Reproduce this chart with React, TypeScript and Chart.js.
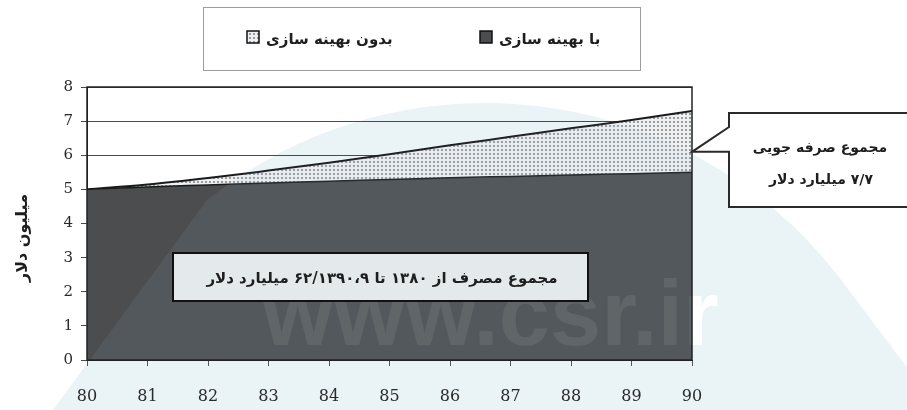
import React, { useEffect, useRef } from 'react';
import { Chart, registerables } from 'chart.js';

Chart.register(...registerables);

// Years (Solar Hijri, 13xx) on the category axis
const years = ['80', '81', '82', '83', '84', '85', '86', '87', '88', '89', '90'];

// Annual spending, million dollars
const withOptimization = [5.0, 5.07, 5.13, 5.19, 5.24, 5.29, 5.34, 5.38, 5.42, 5.46, 5.5];
const withoutOptimization = [5.0, 5.14, 5.33, 5.55, 5.78, 6.03, 6.29, 6.54, 6.79, 7.03, 7.3];

const yMin = 0;
const yMax = 8;
const yStep = 1;

const seriesLabels = ['با بهینه سازی', 'بدون بهینه سازی'];
const yTitle = 'میلیون دلار';
const savingsNote = ['مجموع صرفه جویی', '۷/۷ میلیارد دلار'];
const totalNote = 'مجموع مصرف از ۱۳۸۰ تا ۶۲/۱۳۹۰،۹ میلیارد دلار';
const watermarkText = 'www.csr.ir';

const FA_FONT = '"DejaVu Sans", sans-serif';
const NUM_FONT = '"DejaVu Serif", serif';
const DARK_FILL = '#4b4d4f';
const LINE_COLOR = '#1b1b1b';
const WM_BLUE = '#eaf3f6';

// Watermark dome: arc on top, straight flanks down to the bottom edge
const WM = { cx: 485, cy: 550, r: 447, leftY: 200, rightY: 290, leftFoot: [31, 440], rightFoot: [962, 440] };

function watermarkPath(ctx: CanvasRenderingContext2D) {
  const lx = WM.cx - Math.sqrt(WM.r * WM.r - (WM.cy - WM.leftY) ** 2);
  const rx = WM.cx + Math.sqrt(WM.r * WM.r - (WM.cy - WM.rightY) ** 2);
  const a0 = Math.atan2(WM.leftY - WM.cy, lx - WM.cx);
  const a1 = Math.atan2(WM.rightY - WM.cy, rx - WM.cx);
  ctx.beginPath();
  ctx.moveTo(WM.leftFoot[0], WM.leftFoot[1]);
  ctx.lineTo(lx, WM.leftY);
  ctx.arc(WM.cx, WM.cy, WM.r, a0, a1, false);
  ctx.lineTo(WM.rightFoot[0], WM.rightFoot[1]);
  ctx.closePath();
}

function drawWatermarkText(ctx: CanvasRenderingContext2D, color: string) {
  ctx.save();
  ctx.font = 'bold 92px "Liberation Sans", Arial, sans-serif';
  ctx.textAlign = 'left';
  ctx.textBaseline = 'alphabetic';
  ctx.fillStyle = color;
  ctx.fillText(watermarkText, 262, 345);
  ctx.restore();
}

function makeDotPattern(): CanvasPattern | string {
  const tile = document.createElement('canvas');
  tile.width = 4;
  tile.height = 4;
  const g = tile.getContext('2d');
  if (!g) return '#d8d8d8';
  g.fillStyle = '#eef0f1';
  g.fillRect(0, 0, 4, 4);
  g.fillStyle = '#9a9d9e';
  g.fillRect(1, 1, 2, 2);
  return g.createPattern(tile, 'repeat') || '#d8d8d8';
}

function faText(
  ctx: CanvasRenderingContext2D,
  text: string,
  x: number,
  y: number,
  font: string,
  align: CanvasTextAlign,
  color = '#1e1e1e'
) {
  ctx.save();
  ctx.direction = 'rtl';
  ctx.font = font;
  ctx.textAlign = align;
  ctx.textBaseline = 'middle';
  ctx.fillStyle = color;
  ctx.fillText(text, x, y);
  ctx.restore();
}

const backdropPlugin = {
  id: 'backdrop',
  beforeDraw(chart: any) {
    const ctx: CanvasRenderingContext2D = chart.ctx;
    ctx.save();
    ctx.fillStyle = '#ffffff';
    ctx.fillRect(0, 0, chart.width, chart.height);
    watermarkPath(ctx);
    ctx.fillStyle = WM_BLUE;
    ctx.fill();
    ctx.restore();
    drawWatermarkText(ctx, '#ffffff');
  },
};

const notesPlugin = {
  id: 'notes',
  afterDatasetsDraw(chart: any) {
    const ctx: CanvasRenderingContext2D = chart.ctx;
    const { left, right, top, bottom } = chart.chartArea;

    // faint watermark showing through the filled areas
    const topMeta = chart.getDatasetMeta(1);
    ctx.save();
    ctx.beginPath();
    topMeta.dataset.path(ctx);
    ctx.lineTo(right, bottom);
    ctx.lineTo(left, bottom);
    ctx.closePath();
    ctx.clip();
    watermarkPath(ctx);
    ctx.fillStyle = 'rgba(170,205,228,0.09)';
    ctx.fill();
    drawWatermarkText(ctx, 'rgba(255,255,255,0.08)');
    ctx.restore();

    // frame round the plot
    ctx.save();
    ctx.strokeStyle = '#222';
    ctx.lineWidth = 1.5;
    ctx.strokeRect(left, top, right - left, bottom - top);
    ctx.restore();

    // total spending box
    ctx.save();
    ctx.fillStyle = '#e4eaec';
    ctx.fillRect(173, 253, 415, 48);
    ctx.strokeStyle = '#111';
    ctx.lineWidth = 2;
    ctx.strokeRect(173, 253, 415, 48);
    ctx.restore();
    faText(ctx, totalNote, 382, 279, `bold 15px ${FA_FONT}`, 'center');

    // savings callout pointing at the gap between the series
    const yScale = chart.scales.y;
    const tipX = right;
    const tipY = yScale.getPixelForValue(6.1);
    const bx = 729;
    ctx.save();
    ctx.beginPath();
    ctx.moveTo(chart.width + 4, 113);
    ctx.lineTo(bx, 113);
    ctx.lineTo(bx, 127);
    ctx.lineTo(tipX, tipY);
    ctx.lineTo(bx, tipY);
    ctx.lineTo(bx, 207);
    ctx.lineTo(chart.width + 4, 207);
    ctx.closePath();
    ctx.fillStyle = '#ffffff';
    ctx.fill();
    ctx.strokeStyle = '#2a2a2a';
    ctx.lineWidth = 2;
    ctx.stroke();
    ctx.restore();
    faText(ctx, savingsNote[0], 820, 148, `bold 14px ${FA_FONT}`, 'center');
    faText(ctx, savingsNote[1], 821, 180, `bold 14px ${FA_FONT}`, 'center');

    // y axis title
    ctx.save();
    ctx.translate(23, 238);
    ctx.rotate(-Math.PI / 2);
    faText(ctx, yTitle, 0, 0, `bold 16px ${FA_FONT}`, 'center');
    ctx.restore();

    // legend
    ctx.save();
    ctx.strokeStyle = '#9c9c9c';
    ctx.lineWidth = 1;
    ctx.strokeRect(203.5, 7.5, 437, 63);
    ctx.restore();
    const items = [
      { ds: 1, x: 247 },
      { ds: 0, x: 480 },
    ];
    items.forEach(({ ds, x }) => {
      const dataset = chart.data.datasets[ds];
      ctx.save();
      ctx.fillStyle = dataset.backgroundColor;
      ctx.fillRect(x, 31, 12, 12);
      ctx.strokeStyle = '#111';
      ctx.lineWidth = 1.5;
      ctx.strokeRect(x, 31, 12, 12);
      ctx.restore();
      faText(ctx, dataset.label, x + 19, 40, `bold 15px ${FA_FONT}`, 'left');
    });
  },
};

export default function App() {
  const canvasRef = useRef<HTMLCanvasElement>(null);

  useEffect(() => {
    const canvas = canvasRef.current;
    if (!canvas) return;
    const dots = makeDotPattern();
    const tickFont = { family: NUM_FONT, size: 15 };

    const chart = new Chart(canvas, {
      type: 'line',
      data: {
        labels: years,
        datasets: [
          {
            label: seriesLabels[0],
            data: withOptimization,
            fill: 'origin',
            backgroundColor: DARK_FILL,
            borderColor: LINE_COLOR,
            borderWidth: 1.5,
            pointRadius: 0,
            cubicInterpolationMode: 'monotone',
          },
          {
            label: seriesLabels[1],
            data: withoutOptimization,
            fill: '-1',
            backgroundColor: dots as any,
            borderColor: LINE_COLOR,
            borderWidth: 2,
            pointRadius: 0,
            cubicInterpolationMode: 'monotone',
          },
        ],
      },
      options: {
        responsive: false,
        animation: false,
        devicePixelRatio: 1,
        layout: { padding: { left: 0, right: 215, top: 87, bottom: 0 } },
        plugins: {
          legend: { display: false },
          tooltip: { enabled: false },
        },
        scales: {
          x: {
            grid: { display: true, drawOnChartArea: false, drawTicks: true, tickLength: 6, color: '#555' },
            border: { display: true, color: '#222' },
            ticks: { font: { family: NUM_FONT, size: 16 }, color: '#2a2a2a', padding: 21, maxRotation: 0, autoSkip: false },
            afterFit: (s: any) => {
              s.height = 50;
            },
          },
          y: {
            min: yMin,
            max: yMax,
            ticks: { stepSize: yStep, padding: 8, font: tickFont, color: '#2a2a2a' },
            grid: { color: '#4a4a4a', lineWidth: 1, tickLength: 6, drawTicks: true },
            border: { display: true, color: '#222' },
            afterFit: (s: any) => {
              s.width = 87;
            },
          },
        },
      },
      plugins: [backdropPlugin, notesPlugin],
    });

    return () => chart.destroy();
  }, []);

  return (
    <div style={{ position: 'absolute', left: 0, top: 0, width: 907, height: 410, background: '#fff' }}>
      <canvas ref={canvasRef} width={907} height={410} style={{ display: 'block', width: 907, height: 410 }} />
    </div>
  );
}
